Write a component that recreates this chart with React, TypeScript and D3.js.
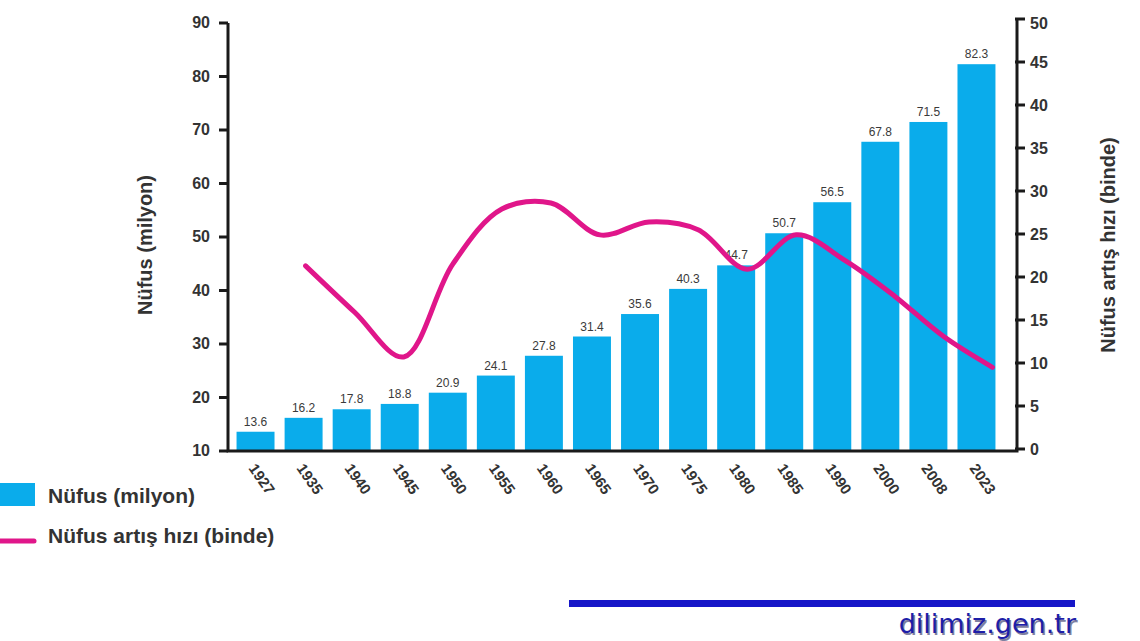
import React, { useEffect, useRef } from 'react';
import * as d3 from 'd3';

// population in millions (bar labels)
const years = ['1927', '1935', '1940', '1945', '1950', '1955', '1960', '1965', '1970', '1975', '1980', '1985', '1990', '2000', '2008', '2023'];
const population = [13.6, 16.2, 17.8, 18.8, 20.9, 24.1, 27.8, 31.4, 35.6, 40.3, 44.7, 50.7, 56.5, 67.8, 71.5, 82.3];

// growth rate per thousand, 1935 onward
const rateYears = ['1935', '1940', '1945', '1950', '1955', '1960', '1965', '1970', '1975', '1980', '1985', '1990', '2000', '2008', '2023'];
const growthRate = [21.3, 15.9, 10.7, 21.5, 27.9, 28.6, 24.9, 26.4, 25.5, 20.9, 24.9, 21.9, 17.8, 13.1, 9.5];

const leftTicks = [10, 20, 30, 40, 50, 60, 70, 80, 90];
const rightTicks = [0, 5, 10, 15, 20, 25, 30, 35, 40, 45, 50];

const W = 1140;
const H = 641;
const BLUE = '#0aaceb';
const PINK = '#e0168a';
const narrow = "'Liberation Sans Narrow', 'Arial Narrow', 'Liberation Sans', Arial, sans-serif";

export default function App() {
  const ref = useRef<SVGSVGElement>(null);

  useEffect(() => {
    const svg = d3.select(ref.current);
    svg.selectAll('*').remove();

    const left = 228, right = 1017, bottom = 451;

    const x = d3.scaleBand<string>().domain(years).range([231.5, 1000.5]).paddingInner(0.21).paddingOuter(0.105);
    const yL = d3.scaleLinear().domain([10, 90]).range([bottom, 23]);
    const yR = d3.scaleLinear().domain([0, 50]).range([bottom - 2, 19]);
    const bw = x.bandwidth();

    // line positions are slightly stretched against the bars in the original
    const xLine = d3.scalePoint<string>().domain(rateYears)
      .range([(x('1935') as number) + bw / 2 + 2, (x('2023') as number) + bw / 2 + 16]);

    const g = svg.append('g');

    g.selectAll('rect.bar')
      .data(years)
      .join('rect')
      .attr('class', 'bar')
      .attr('x', d => x(d) as number)
      .attr('width', bw)
      .attr('y', (d, i) => yL(population[i]))
      .attr('height', (d, i) => bottom - yL(population[i]))
      .attr('fill', BLUE);

    g.selectAll('text.val')
      .data(years)
      .join('text')
      .attr('class', 'val')
      .attr('x', d => (x(d) as number) + bw / 2)
      .attr('y', (d, i) => yL(population[i]) - 6)
      .attr('text-anchor', 'middle')
      .attr('font-family', narrow)
      .attr('font-size', 12)
      .attr('fill', '#3a3a3a')
      .text((d, i) => population[i].toFixed(1));

    const line = d3.line<number>()
      .x((d, i) => xLine(rateYears[i]) as number)
      .y(d => yR(d))
      .curve(d3.curveCatmullRom.alpha(0.5));

    g.append('path')
      .attr('d', line(growthRate))
      .attr('fill', 'none')
      .attr('stroke', PINK)
      .attr('stroke-width', 5)
      .attr('stroke-linecap', 'round');

    // axes
    const axisColor = '#1a1a1a';
    g.append('path')
      .attr('d', `M${left},${yL(90)}V${bottom}H${right}V${yR(50)}`)
      .attr('fill', 'none')
      .attr('stroke', axisColor)
      .attr('stroke-width', 3);

    g.selectAll('line.lt')
      .data(leftTicks)
      .join('line')
      .attr('class', 'lt')
      .attr('x1', left - 9).attr('x2', left)
      .attr('y1', d => yL(d)).attr('y2', d => yL(d))
      .attr('stroke', axisColor).attr('stroke-width', 3);

    g.selectAll('text.lt')
      .data(leftTicks)
      .join('text')
      .attr('class', 'lt')
      .attr('x', left - 18)
      .attr('y', d => yL(d) + 5)
      .attr('text-anchor', 'end')
      .attr('font-family', narrow)
      .attr('font-weight', 'bold')
      .attr('font-size', 16)
      .attr('fill', '#333')
      .text(d => d);

    g.selectAll('line.rt')
      .data(rightTicks)
      .join('line')
      .attr('class', 'rt')
      .attr('x1', right - 2).attr('x2', right + 8)
      .attr('y1', d => yR(d)).attr('y2', d => yR(d))
      .attr('stroke', axisColor).attr('stroke-width', 3);

    g.selectAll('text.rt')
      .data(rightTicks)
      .join('text')
      .attr('class', 'rt')
      .attr('x', right + 13)
      .attr('y', d => yR(d) + 6 + (d === 50 ? 4 : 0))
      .attr('font-family', narrow)
      .attr('font-weight', 'bold')
      .attr('font-size', 16)
      .attr('fill', '#333')
      .text(d => d);

    g.selectAll('text.yr')
      .data(years)
      .join('text')
      .attr('class', 'yr')
      .attr('transform', d => `translate(${(x(d) as number) + bw / 2 + 2},${bottom + 31}) rotate(55)`)
      .attr('text-anchor', 'middle')
      .attr('font-family', narrow)
      .attr('font-weight', 'bold')
      .attr('font-size', 15)
      .attr('fill', '#333')
      .text(d => d);

    // axis titles
    g.append('text')
      .attr('transform', `translate(152,245) rotate(-90)`)
      .attr('text-anchor', 'middle')
      .attr('font-family', narrow)
      .attr('font-weight', 'bold')
      .attr('font-size', 20)
      .attr('fill', '#333')
      .text('Nüfus (milyon)');

    g.append('text')
      .attr('transform', `translate(1115,245) rotate(-90)`)
      .attr('text-anchor', 'middle')
      .attr('font-family', narrow)
      .attr('font-weight', 'bold')
      .attr('font-size', 20)
      .attr('fill', '#333')
      .text('Nüfus artış hızı (binde)');

    // legend
    g.append('rect').attr('x', 0).attr('y', 483).attr('width', 35).attr('height', 23).attr('fill', BLUE);
    g.append('text')
      .attr('x', 48).attr('y', 503)
      .attr('font-family', narrow)
      .attr('font-weight', 'bold')
      .attr('font-size', 21)
      .attr('fill', '#333')
      .text('Nüfus (milyon)');
    g.append('line').attr('x1', 0).attr('x2', 34).attr('y1', 541).attr('y2', 541)
      .attr('stroke', PINK).attr('stroke-width', 5).attr('stroke-linecap', 'round');
    g.append('text')
      .attr('x', 48).attr('y', 543)
      .attr('font-family', narrow)
      .attr('font-weight', 'bold')
      .attr('font-size', 21)
      .attr('fill', '#333')
      .text('Nüfus artış hızı (binde)');

    // watermark
    g.append('rect').attr('x', 569).attr('y', 600).attr('width', 506).attr('height', 7).attr('fill', '#1616c8');
    g.append('text')
      .attr('x', 1076).attr('y', 633)
      .attr('text-anchor', 'end')
      .attr('font-family', "'DejaVu Sans', sans-serif")
      .attr('font-size', 27)
      .attr('fill', '#8080a0')
      .attr('transform', 'translate(1.5,1.5)')
      .text('dilimiz.gen.tr');
    g.append('text')
      .attr('x', 1076).attr('y', 633)
      .attr('text-anchor', 'end')
      .attr('font-family', "'DejaVu Sans', sans-serif")
      .attr('font-size', 27)
      .attr('fill', '#1e1ea8')
      .text('dilimiz.gen.tr');
  }, []);

  return (
    <svg ref={ref} width={W} height={H} style={{ position: 'absolute', left: 0, top: 0, background: '#fff' }} />
  );
}
